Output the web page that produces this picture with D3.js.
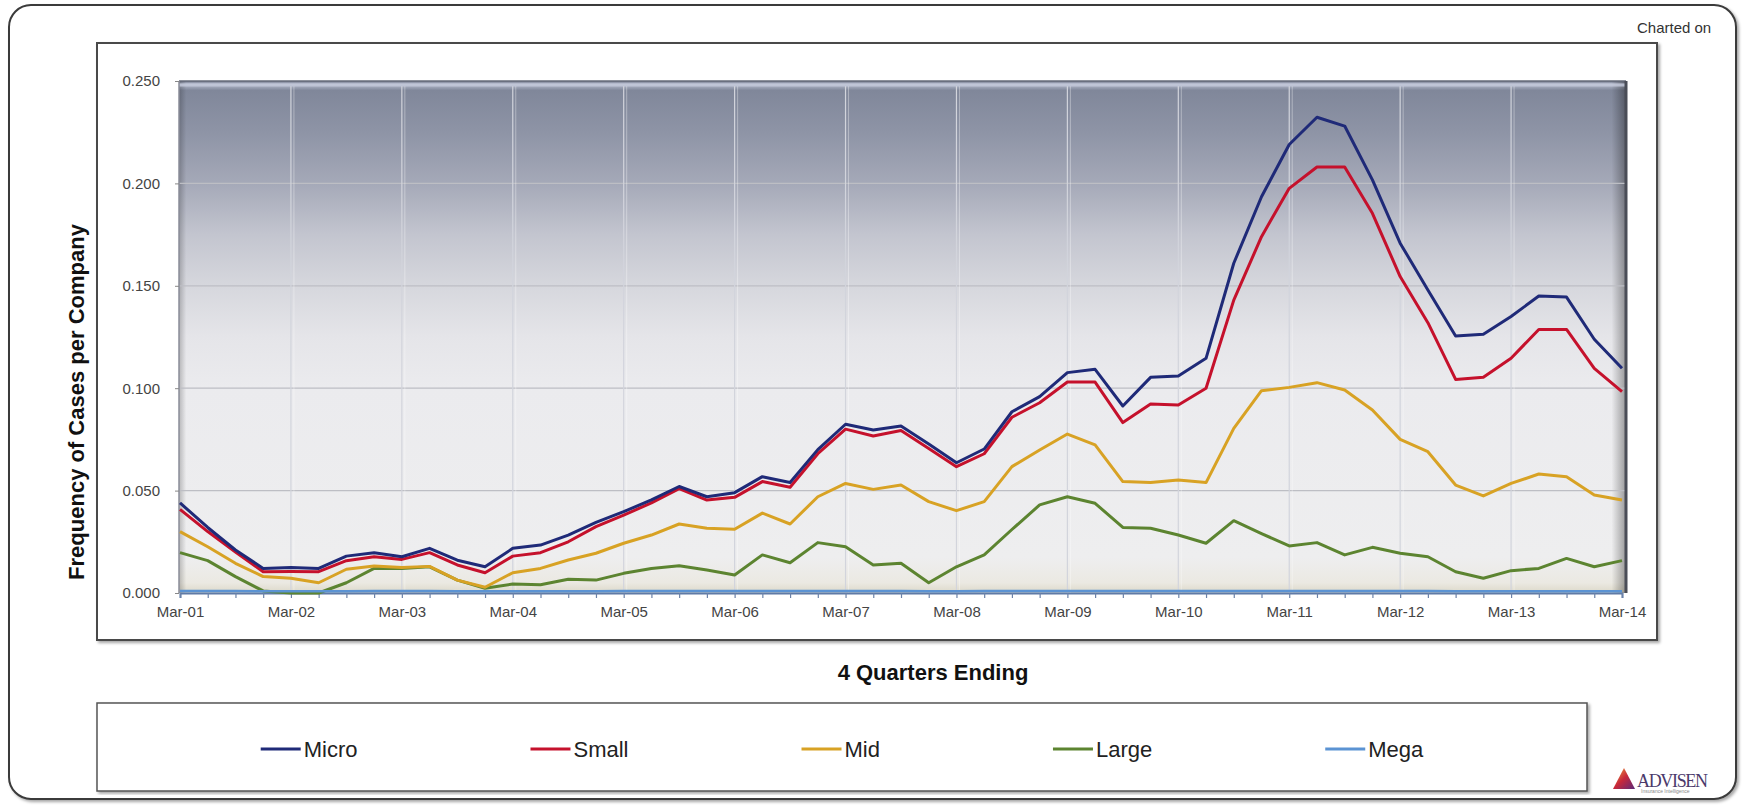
<!DOCTYPE html>
<html>
<head>
<meta charset="utf-8">
<script src="https://cdn.jsdelivr.net/npm/d3@7"></script>
<style>
  body { margin: 0; background: #fff; overflow: hidden; }
  text { font-family: "Liberation Sans", Arial, sans-serif; }
</style>
</head>
<body>
<script>
// Quarter labels: 4 quarters ending each Mar/Jun/Sep/Dec, Mar-01 .. Mar-14
const years = ['01','02','03','04','05','06','07','08','09','10','11','12','13','14'];
const months = ['Mar','Jun','Sep','Dec'];
const quarters = [];
years.forEach(yr => months.forEach(m => quarters.push(m + '-' + yr)));
quarters.splice(53); // stop at Mar-14

const seriesNames = ['Micro', 'Small', 'Mid', 'Large', 'Mega'];
const seriesColors = ['#1f2a78', '#c5112c', '#d8a224', '#5c8430', '#5b93d3'];

const micro = [0.044, 0.032, 0.021, 0.012, 0.0125, 0.012, 0.018, 0.0197, 0.0177, 0.0218, 0.016, 0.0128, 0.0218,
  0.0234, 0.0283, 0.0345, 0.0397, 0.0455, 0.052, 0.047, 0.049, 0.0568, 0.054, 0.070, 0.0824, 0.0796, 0.0815,
  0.0728, 0.0636, 0.0703, 0.0885, 0.0959, 0.1076, 0.1092, 0.0913, 0.1053, 0.106, 0.1146, 0.161, 0.1935, 0.219,
  0.2323, 0.228, 0.2017, 0.1708, 0.148, 0.1255, 0.1263, 0.135, 0.145, 0.1445, 0.1239, 0.1097];
const small = [0.0408, 0.030, 0.020, 0.0104, 0.0105, 0.0104, 0.0158, 0.0177, 0.0164, 0.0197, 0.0137, 0.0099, 0.018,
  0.0197, 0.025, 0.0324, 0.038, 0.044, 0.051, 0.0454, 0.0467, 0.0544, 0.0516, 0.068, 0.080, 0.0767, 0.0793,
  0.0706, 0.0617, 0.068, 0.0858, 0.0929, 0.103, 0.103, 0.0832, 0.0923, 0.0918, 0.100, 0.143, 0.174, 0.1976,
  0.208, 0.208, 0.1854, 0.1545, 0.132, 0.1043, 0.1053, 0.1146, 0.1287, 0.1287, 0.1097, 0.0983];
const mid = [0.030, 0.0226, 0.0145, 0.008, 0.0072, 0.005, 0.0116, 0.0132, 0.0125, 0.013, 0.0063, 0.0028, 0.0099,
  0.012, 0.0161, 0.0194, 0.0243, 0.0283, 0.0337, 0.0316, 0.0311, 0.039, 0.0337, 0.047, 0.0535, 0.0506, 0.0527,
  0.0446, 0.0402, 0.0446, 0.0617, 0.0698, 0.0776, 0.0723, 0.0544, 0.0539, 0.0552, 0.0539, 0.0804, 0.0988, 0.1004,
  0.1027, 0.0991, 0.0894, 0.075, 0.069, 0.0527, 0.0474, 0.0535, 0.0581, 0.0568, 0.0479, 0.0454];
const large = [0.0197, 0.0158, 0.008, 0.001, 0.0, 0.0, 0.005, 0.012, 0.012, 0.0128, 0.0063, 0.0023, 0.0044,
  0.004, 0.0067, 0.0063, 0.0096, 0.012, 0.0133, 0.0112, 0.0088, 0.0186, 0.0148, 0.0246, 0.0226, 0.0137, 0.0145,
  0.005, 0.0128, 0.0186, 0.031, 0.043, 0.047, 0.0438, 0.032, 0.0316, 0.0283, 0.0243, 0.0353, 0.029, 0.023,
  0.0246, 0.0186, 0.0223, 0.0194, 0.0177, 0.0104, 0.0072, 0.0109, 0.012, 0.0169, 0.0128, 0.0158];
const mega = [0.001, 0.001, 0.001, 0.0008, 0.0008, 0.0008, 0.0008, 0.001, 0.001, 0.001, 0.0008, 0.0008, 0.0008,
  0.0008, 0.0008, 0.0008, 0.001, 0.001, 0.001, 0.001, 0.001, 0.001, 0.001, 0.001, 0.001, 0.001, 0.001,
  0.0008, 0.0008, 0.001, 0.001, 0.001, 0.001, 0.001, 0.001, 0.001, 0.001, 0.001, 0.001, 0.001, 0.001,
  0.001, 0.001, 0.001, 0.001, 0.001, 0.0008, 0.0008, 0.0008, 0.0008, 0.0008, 0.0008, 0.0008];
const seriesValues = [micro, small, mid, large, mega];

const yTicks = [0, 0.05, 0.10, 0.15, 0.20, 0.25];

const W = 1744, H = 806;
const P = {left: 179, right: 1626, top: 81, bottom: 593};

const svg = d3.select('body').append('svg').attr('width', W).attr('height', H);
const defs = svg.append('defs');

const shadow = defs.append('filter').attr('id', 'shadow')
  .attr('x', '-2%').attr('y', '-2%').attr('width', '104%').attr('height', '106%');
shadow.append('feDropShadow').attr('dx', 2).attr('dy', 2).attr('stdDeviation', 1.5)
  .attr('flood-color', '#000').attr('flood-opacity', 0.35);

// plot background: dark slate at the top fading to light grey
const bg = defs.append('linearGradient').attr('id', 'bg').attr('x1', 0).attr('y1', 0).attr('x2', 0).attr('y2', 1);
[[0, '#6c7285'], [0.006, '#b9bfd1'], [0.018, '#80879a'], [0.1, '#8e94a6'], [0.2, '#a5a9b8'],
 [0.3, '#c3c5cf'], [0.4, '#d6d7dd'], [0.5, '#e5e5e9'], [0.6, '#ebebee'], [0.93, '#eeeeef'],
 [0.98, '#ebe9e2'], [1, '#dcd8c8']]
  .forEach(s => bg.append('stop').attr('offset', s[0]).attr('stop-color', s[1]));

const bevel = defs.append('linearGradient').attr('id', 'bevel').attr('x1', 0).attr('y1', 0).attr('x2', 1).attr('y2', 0);
[[0, '#000', 0.22], [0.005, '#000', 0], [0.99, '#000', 0], [1, '#000', 0.35]]
  .forEach(s => bevel.append('stop').attr('offset', s[0]).attr('stop-color', s[1]).attr('stop-opacity', s[2]));

const logoGrad = defs.append('linearGradient').attr('id', 'logo').attr('x1', 0).attr('y1', 0).attr('x2', 1).attr('y2', 1);
[[0, '#f2a93b'], [0.5, '#c8283a'], [1, '#5b2a7a']]
  .forEach(s => logoGrad.append('stop').attr('offset', s[0]).attr('stop-color', s[1]));

// frames
svg.append('rect').attr('x', 9).attr('y', 5).attr('width', 1727).attr('height', 794).attr('rx', 22)
  .attr('fill', '#fff').attr('stroke', '#3a3a3a').attr('stroke-width', 2).attr('filter', 'url(#shadow)');
svg.append('rect').attr('x', 97).attr('y', 43).attr('width', 1560).attr('height', 597)
  .attr('fill', '#fff').attr('stroke', '#4a4a4a').attr('stroke-width', 2).attr('filter', 'url(#shadow)');
svg.append('rect').attr('x', 97).attr('y', 703).attr('width', 1490).attr('height', 88)
  .attr('fill', '#fff').attr('stroke', '#555').attr('stroke-width', 1.5).attr('filter', 'url(#shadow)');

const x = d3.scalePoint().domain(quarters).range([180, 1622]);
const y = d3.scaleLinear().domain([0, 0.25]).range([P.bottom, P.top]);

// plot area
const plot = svg.append('g');
plot.append('rect').attr('x', P.left).attr('y', P.top).attr('width', P.right - P.left).attr('height', P.bottom - P.top)
  .attr('fill', 'url(#bg)');
plot.append('rect').attr('x', P.left).attr('y', P.top).attr('width', P.right - P.left).attr('height', P.bottom - P.top)
  .attr('fill', 'url(#bevel)');

plot.selectAll('line.hgrid').data(yTicks.slice(1, -1)).enter().append('line')
  .attr('class', 'hgrid')
  .attr('x1', P.left).attr('x2', P.right)
  .attr('y1', d => y(d)).attr('y2', d => y(d))
  .attr('stroke', '#bdbec4').attr('stroke-width', 1.2);

const yearTicks = quarters.filter(q => q.startsWith('Mar')).slice(1, -1);
plot.selectAll('line.vgrid').data(yearTicks).enter().append('line')
  .attr('class', 'vgrid')
  .attr('x1', d => x(d)).attr('x2', d => x(d))
  .attr('y1', P.top + 5).attr('y2', P.bottom)
  .attr('stroke', '#d2d4dc').attr('stroke-width', 1.2);
plot.selectAll('line.vgrid2').data(yearTicks).enter().append('line')
  .attr('class', 'vgrid2')
  .attr('x1', d => x(d) + 3).attr('x2', d => x(d) + 3)
  .attr('y1', P.top + 5).attr('y2', P.bottom)
  .attr('stroke', '#fff').attr('stroke-opacity', 0.35).attr('stroke-width', 1);

plot.append('line').attr('x1', P.left).attr('x2', P.right).attr('y1', P.top + 4).attr('y2', P.top + 4)
  .attr('stroke', '#c3c8da').attr('stroke-width', 3).attr('stroke-opacity', 0.8);
plot.append('line').attr('x1', P.left).attr('x2', P.right).attr('y1', P.top).attr('y2', P.top)
  .attr('stroke', '#666b7a').attr('stroke-width', 1.5);
plot.append('line').attr('x1', P.right).attr('x2', P.right).attr('y1', P.top).attr('y2', P.bottom)
  .attr('stroke', '#4a4d57').attr('stroke-width', 3);
plot.append('line').attr('x1', P.left).attr('x2', P.left).attr('y1', P.top).attr('y2', P.bottom)
  .attr('stroke', '#8a8d98').attr('stroke-width', 1.5);

// axes
const yAxis = svg.append('g').attr('transform', 'translate(' + P.left + ',0)')
  .call(d3.axisLeft(y).tickValues(yTicks).tickSize(4).tickPadding(15).tickFormat(d3.format('.3f')));
yAxis.select('.domain').remove();
yAxis.selectAll('line').attr('stroke', '#888');
yAxis.selectAll('text').attr('font-size', '15px').attr('fill', '#444')
  .attr('font-family', '"Liberation Sans", Arial, sans-serif');

const xAxis = svg.append('g').attr('transform', 'translate(0,' + P.bottom + ')')
  .call(d3.axisBottom(x).tickValues(quarters).tickSize(5).tickPadding(8)
    .tickFormat(d => d.startsWith('Mar') ? d : ''));
xAxis.select('.domain').attr('stroke', '#5f7aa6').attr('stroke-width', 2);
xAxis.selectAll('line').attr('stroke', '#6b82a8').attr('stroke-width', 1.2);
xAxis.selectAll('text').attr('font-size', '15px').attr('fill', '#444')
  .attr('font-family', '"Liberation Sans", Arial, sans-serif');

// series
const line = d3.line().x((d, i) => x(quarters[i])).y(d => y(d));
const order = [3, 2, 1, 0, 4];
svg.append('g').selectAll('path.series').data(order).enter().append('path')
  .attr('class', 'series')
  .attr('d', k => line(seriesValues[k]))
  .attr('fill', 'none')
  .attr('stroke', k => seriesColors[k])
  .attr('stroke-width', k => k === 4 ? 2.5 : 3)
  .attr('stroke-linejoin', 'round');

// titles
svg.append('text').attr('transform', 'translate(76,402) rotate(-90)')
  .attr('text-anchor', 'middle').attr('dy', '0.35em')
  .attr('font-size', '22px').attr('font-weight', 'bold').attr('fill', '#111')
  .text('Frequency of Cases per Company');
svg.append('text').attr('x', 933).attr('y', 680).attr('text-anchor', 'middle')
  .attr('font-size', '22px').attr('font-weight', 'bold').attr('fill', '#111')
  .text('4 Quarters Ending');
svg.append('text').attr('x', 1637).attr('y', 33)
  .attr('font-size', '15px').attr('fill', '#333').text('Charted on');

// legend
const legend = svg.append('g');
const items = legend.selectAll('g').data(seriesNames).enter().append('g');
items.append('line').attr('x1', 0).attr('x2', 40).attr('y1', 0).attr('y2', 0)
  .attr('stroke', (d, i) => seriesColors[i]).attr('stroke-width', 3);
items.append('text').attr('x', 43).attr('y', 8)
  .attr('font-size', '22px').attr('fill', '#222').text(d => d);
let widths = [];
items.each(function () { widths.push(43 + d3.select(this).select('text').node().getComputedTextLength()); });
const GAP = 173;
const total = d3.sum(widths) + GAP * (widths.length - 1);
let cx = 842 - total / 2;
items.attr('transform', (d, i) => {
  const t = 'translate(' + cx + ',749)';
  cx += widths[i] + GAP;
  return t;
});

// logo
svg.append('polygon').attr('points', '1613,789 1624,768 1635,789').attr('fill', 'url(#logo)');
svg.append('text').attr('x', 1637).attr('y', 787).style('font-family', '"Liberation Serif", serif')
  .attr('font-size', '18px').attr('fill', '#4b3a6b').attr('textLength', 71).text('ADVISEN');
svg.append('text').attr('x', 1641).attr('y', 793).attr('font-size', '5px').attr('fill', '#888')
  .text('Insurance Intelligence');
</script>
</body>
</html>
